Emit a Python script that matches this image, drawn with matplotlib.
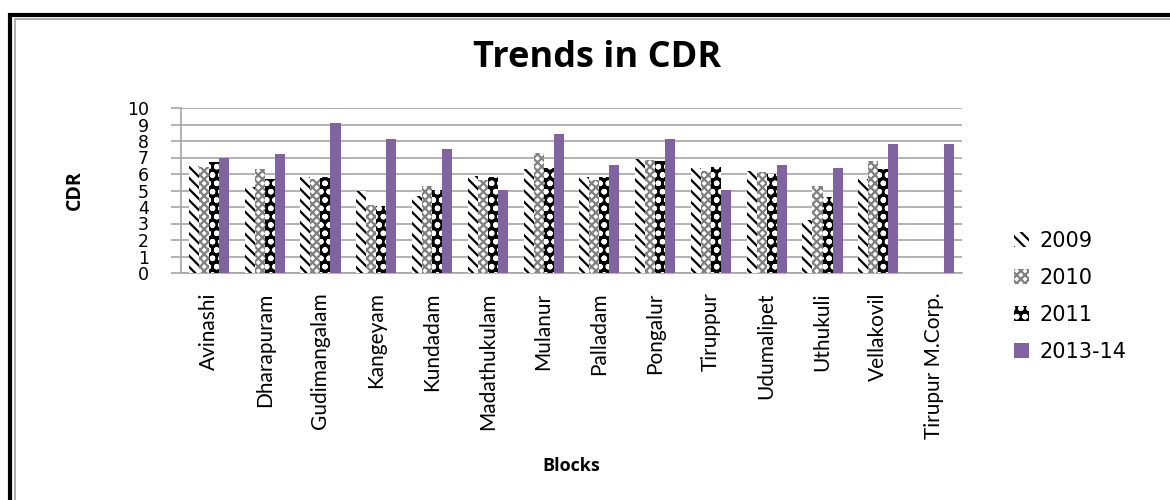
import numpy as np
import matplotlib
import matplotlib.pyplot as plt
from matplotlib.patches import Rectangle, Patch

# CDR by block and year
blocks = ["Avinashi", "Dharapuram", "Gudimangalam", "Kangeyam", "Kundadam",
          "Madathukulam", "Mulanur", "Palladam", "Pongalur", "Tiruppur",
          "Udumalipet", "Uthukuli", "Vellakovil", "Tirupur M.Corp."]
cdr_2009 = [6.5, 5.2, 5.8, 5.0, 4.65, 5.85, 6.3, 5.8, 6.9, 6.35, 6.2, 3.2, 5.7, np.nan]
cdr_2010 = [6.4, 6.3, 5.7, 4.15, 5.25, 5.65, 7.3, 5.65, 6.85, 6.2, 6.15, 5.25, 6.8, np.nan]
cdr_2011 = [6.7, 5.7, 5.8, 4.05, 5.05, 5.8, 6.35, 5.8, 6.8, 6.45, 6.0, 4.6, 6.3, np.nan]
cdr_2013 = [7.0, 7.2, 9.1, 8.1, 7.5, 5.05, 8.4, 6.55, 8.1, 5.05, 6.55, 6.35, 7.8, 7.8]
years = ["2009", "2010", "2011", "2013-14"]

plt.rcParams['hatch.linewidth'] = 1.6
label_font = ['Lato', 'DejaVu Sans']
bold_font = ['Open Sans', 'DejaVu Sans']

fig = plt.figure(figsize=(11.7, 5), dpi=100)
ax = fig.add_axes([0.1547, 0.454, 0.6675, 0.33])

x = np.arange(len(blocks))
w = 0.18
styles = [
    dict(facecolor='white', edgecolor='black', hatch='\\\\\\'),
    dict(facecolor='white', edgecolor='#7f7f7f', hatch='xxxx'),
    dict(facecolor='black', edgecolor='white', hatch='oo'),
    dict(facecolor='#8064A2', edgecolor='#8064A2', hatch=None),
]
series = [cdr_2009, cdr_2010, cdr_2011, cdr_2013]
handles = []
for i, (vals, st, yr) in enumerate(zip(series, styles, years)):
    ax.bar(x + (i - 1.5) * w, vals, w, linewidth=0, zorder=3, **st)
    handles.append(Patch(linewidth=0, label=yr, **st))

ax.set_xlim(-0.5, len(blocks) - 0.5)
ax.set_ylim(0, 10)
ax.set_yticks(range(0, 11))
ax.grid(axis='y', color='#a6a6a6', linewidth=1.2, zorder=0)
for s in ['top', 'right']:
    ax.spines[s].set_visible(False)
for s in ['left', 'bottom']:
    ax.spines[s].set_color('#a6a6a6')
    ax.spines[s].set_linewidth(1.2)
ax.tick_params(axis='y', direction='out', length=7, color='#a6a6a6', width=1.2,
               pad=16, labelsize=12.5)
ax.tick_params(axis='x', length=0, pad=14)
ax.set_xticks(x)
ax.set_xticklabels(blocks, rotation=90, fontsize=15, family=label_font)
for t in ax.get_yticklabels():
    t.set_family('DejaVu Sans')

fig.text(0.51, 0.884, "Trends in CDR", ha='center', va='center', fontsize=26,
         fontweight='bold', family=bold_font)
fig.text(0.064, 0.62, "CDR", ha='center', va='center', rotation=90, fontsize=14,
         fontweight='bold', family=bold_font)
fig.text(0.488, 0.068, "Blocks", ha='center', va='center', fontsize=13,
         fontweight='bold', family=bold_font)

fig.legend(handles=handles, loc='upper left', bbox_to_anchor=(0.851, 0.576),
           frameon=False, handlelength=0.7, handleheight=0.7, handletextpad=0.5,
           labelspacing=0.82, prop={'family': ['DejaVu Sans'], 'size': 15})

# outer frame, running off the right and bottom edges
fig.patches.append(Rectangle((0.0085, -0.05), 1.1, 1.02, transform=fig.transFigure,
                             fill=False, edgecolor='black', linewidth=3))
fig.patches.append(Rectangle((0.0125, -0.05), 1.1, 1.012, transform=fig.transFigure,
                             fill=False, edgecolor='#a0a0a0', linewidth=1.2))

fig.savefig("out.png", dpi=100)
